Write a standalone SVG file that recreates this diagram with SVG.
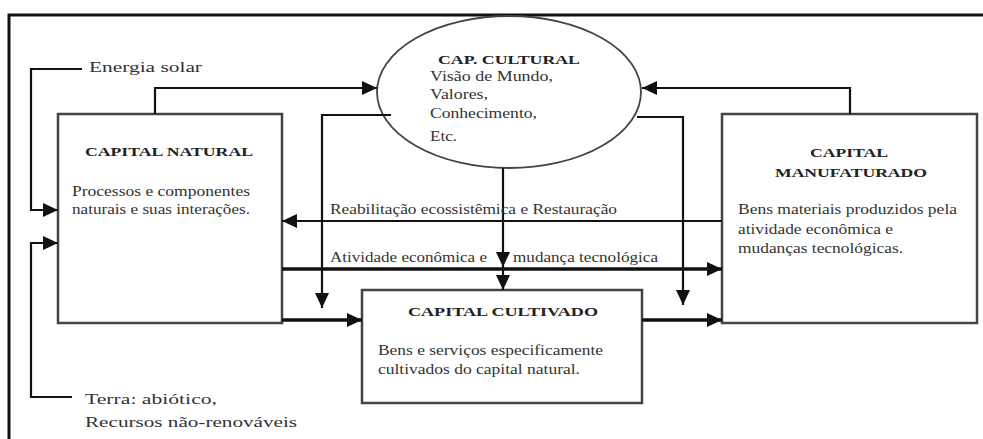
<svg xmlns="http://www.w3.org/2000/svg" width="983" height="439" viewBox="0 0 983 439" font-family="'Liberation Serif', 'Times New Roman', serif">
<defs>
<marker id="ah" markerUnits="userSpaceOnUse" markerWidth="16" markerHeight="16" refX="15" refY="8" orient="auto">
<path d="M0,1 L15,8 L0,15 Z" fill="#111"/>
</marker>
<style>
.t{font-size:13px;font-weight:bold;fill:#222;font-family:'Liberation Serif',serif;}
.b{font-size:14px;fill:#333;font-family:'Liberation Serif',serif;}
.l{font-size:15px;fill:#333;font-family:'Liberation Serif',serif;}
.box{fill:#fff;stroke:#444;stroke-width:2.5;}
.c{fill:none;stroke:#111;stroke-width:2.2;}
.k{fill:none;stroke:#111;stroke-width:3.5;}
</style>
</defs>
<rect width="983" height="439" fill="#fff"/>
<g id="frame">
<path d="M9,439 L9,15 L983,15" fill="none" stroke="#111" stroke-width="3"/>
</g>
<g id="capital-natural">
<rect class="box" x="58" y="114" width="224" height="209"/>
<text class="t" x="85" y="156" textLength="168" lengthAdjust="spacingAndGlyphs">CAPITAL NATURAL</text>
<text class="b" x="72" y="196" textLength="178" lengthAdjust="spacingAndGlyphs">Processos e componentes</text>
<text class="b" x="72" y="214" textLength="178" lengthAdjust="spacingAndGlyphs">naturais e suas interações.</text>
</g>
<g id="capital-manufaturado">
<rect class="box" x="722" y="114" width="255" height="209"/>
<text class="t" x="810" y="157" textLength="78" lengthAdjust="spacingAndGlyphs">CAPITAL</text>
<text class="t" x="775" y="177" textLength="152" lengthAdjust="spacingAndGlyphs">MANUFATURADO</text>
<text class="b" x="738" y="214" textLength="219" lengthAdjust="spacingAndGlyphs">Bens materiais produzidos pela</text>
<text class="b" x="738" y="234" textLength="155" lengthAdjust="spacingAndGlyphs">atividade econômica e</text>
<text class="b" x="738" y="253" textLength="165" lengthAdjust="spacingAndGlyphs">mudanças tecnológicas.</text>
</g>
<g id="capital-cultivado">
<rect class="box" x="362" y="290" width="280" height="113"/>
<text class="t" x="408" y="316" textLength="190" lengthAdjust="spacingAndGlyphs">CAPITAL CULTIVADO</text>
<text class="b" x="378" y="355" textLength="225" lengthAdjust="spacingAndGlyphs">Bens e serviços especificamente</text>
<text class="b" x="378" y="374" textLength="202" lengthAdjust="spacingAndGlyphs">cultivados do capital natural.</text>
</g>
<g id="cap-cultural">
<ellipse cx="509" cy="92" rx="132" ry="76" fill="#fff" stroke="#444" stroke-width="1.8"/>
<text class="t" x="438" y="64" textLength="142" lengthAdjust="spacingAndGlyphs">CAP. CULTURAL</text>
<text class="b" x="430" y="81" textLength="123" lengthAdjust="spacingAndGlyphs">Visão de Mundo,</text>
<text class="b" x="430" y="99" textLength="58" lengthAdjust="spacingAndGlyphs">Valores,</text>
<text class="b" x="430" y="118" textLength="107" lengthAdjust="spacingAndGlyphs">Conhecimento,</text>
<text class="b" x="430" y="141" textLength="27" lengthAdjust="spacingAndGlyphs">Etc.</text>
</g>
<g id="energia-solar">
<text class="l" x="89" y="72" textLength="113" lengthAdjust="spacingAndGlyphs">Energia solar</text>
</g>
<g id="terra">
<text class="l" x="85" y="404" textLength="132" lengthAdjust="spacingAndGlyphs">Terra: abiótico,</text>
<text class="l" x="85" y="427" textLength="212" lengthAdjust="spacingAndGlyphs">Recursos não-renováveis</text>
</g>
<g id="connectors">
<path class="c" d="M82,69 L31,69 L31,210 L58,210" marker-end="url(#ah)"/>
<path class="c" d="M72,397 L31,397 L31,243 L58,243" marker-end="url(#ah)"/>
<path class="c" d="M155,114 L155,88 L377,88" marker-end="url(#ah)"/>
<path class="c" d="M850,114 L850,88 L642,88" marker-end="url(#ah)"/>
<path class="c" d="M391,115 L322,115 L322,308" marker-end="url(#ah)"/>
<path class="c" d="M637,117 L683,117 L683,305" marker-end="url(#ah)"/>
<path class="c" d="M503,168 L503,267" marker-end="url(#ah)"/>
<path class="c" d="M503,267 L503,290" marker-end="url(#ah)"/>
<path class="c" d="M722,221 L282,221" marker-end="url(#ah)"/>
<path class="k" d="M282,269 L722,269" marker-end="url(#ah)"/>
<path class="k" d="M282,320 L362,320" marker-end="url(#ah)"/>
<path class="k" d="M642,320 L722,320" marker-end="url(#ah)"/>
<text class="b" x="330" y="214" textLength="287" lengthAdjust="spacingAndGlyphs">Reabilitação ecossistêmica e Restauração</text>
<text class="b" x="330" y="262" textLength="157" lengthAdjust="spacingAndGlyphs">Atividade econômica e</text>
<text class="b" x="513" y="262" textLength="145" lengthAdjust="spacingAndGlyphs">mudança tecnológica</text>
</g>
</svg>
